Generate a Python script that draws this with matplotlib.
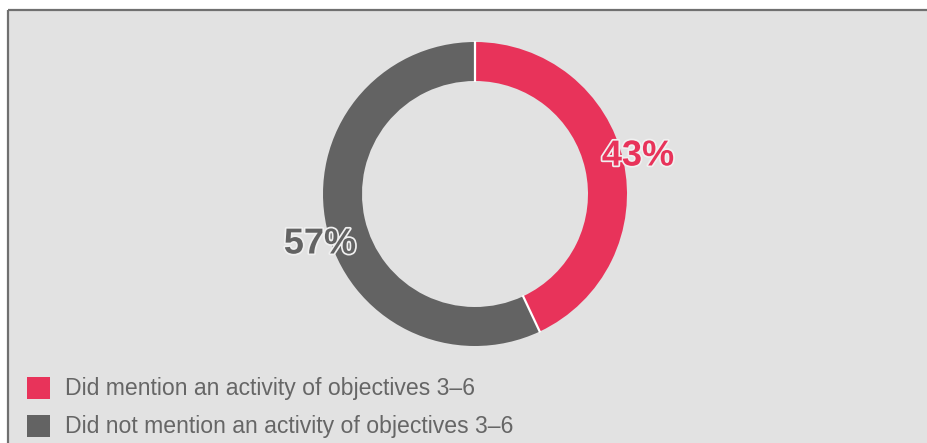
import numpy as np
import matplotlib.pyplot as plt
import matplotlib.patheffects as pe
from matplotlib.patches import Rectangle

plt.rcParams['font.family'] = ['Liberation Sans', 'DejaVu Sans']

# Share of responses
labels = ['Did mention an activity of objectives 3\u20136',
          'Did not mention an activity of objectives 3\u20136']
shares = [43, 57]
colors = ['#e8335a', '#636363']

W, H = 928, 443
fig = plt.figure(figsize=(W / 100, H / 100), dpi=100)
ax = fig.add_axes([0, 0, 1, 1])
ax.set_xlim(0, W)
ax.set_ylim(0, H)
ax.set_aspect('equal')
ax.axis('off')

# panel background with top/left rule
ax.add_patch(Rectangle((8, 0), W - 8, H - 10, facecolor='#e2e2e2', edgecolor='none', zorder=0))
ax.plot([8, W], [H - 10, H - 10], color='#707070', lw=1.6, zorder=1, solid_capstyle='butt')
ax.plot([8, 8], [0, H - 10], color='#707070', lw=1.6, zorder=1, solid_capstyle='butt')

cx, cy, r = 475, H - 194, 152
ring = 39
ax.pie(shares, colors=colors, startangle=90, counterclock=False,
       center=(cx, cy), radius=r, frame=True,
       wedgeprops=dict(width=ring, edgecolor='none'))
ax.set_xlim(0, W)
ax.set_ylim(0, H)
ax.axis('off')

# thin white gaps between the slices
bounds = 90 - 360 * np.cumsum([0] + shares[:-1]) / sum(shares)
for a in np.radians(bounds):
    ax.plot([cx + (r - ring - 1) * np.cos(a), cx + (r + 1) * np.cos(a)],
            [cy + (r - ring - 1) * np.sin(a), cy + (r + 1) * np.sin(a)],
            color='white', lw=1.6, zorder=3, solid_capstyle='butt')

stroke = [pe.withStroke(linewidth=2.5, foreground='#f0f0f0')]
ax.text(638, H - 156, f'{shares[0]}%', color=colors[0], fontsize=26, fontweight='bold',
        ha='center', va='center', path_effects=stroke, zorder=4)
ax.text(320, H - 244, f'{shares[1]}%', color=colors[1], fontsize=26, fontweight='bold',
        ha='center', va='center', path_effects=stroke, zorder=4)

# legend
for i, (lab, col) in enumerate(zip(labels, colors)):
    y = H - (388 + 38 * i)
    ax.add_patch(Rectangle((27, y - 11), 23, 22, facecolor=col, edgecolor='none'))
    ax.text(65, y, lab, color='#666666', fontsize=16.6, ha='left', va='center')

fig.savefig('out.png', dpi=100)
